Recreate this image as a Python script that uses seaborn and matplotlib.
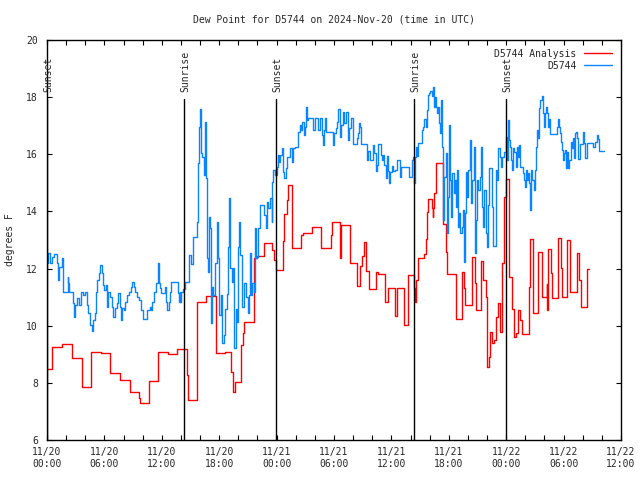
import matplotlib
matplotlib.use("Agg")
import matplotlib.pyplot as plt
import numpy as np
import pandas as pd
import seaborn as sns

# ---------------- data (hours since 2024-11-20 00:00 UTC, degrees F) ----------------
red_steps = [
    (0.0, 8.47), (0.55, 9.24), (1.6, 9.35), (2.58, 8.86), (3.66, 7.84), (4.57, 9.09),
    (5.61, 9.03), (6.62, 8.36), (7.63, 8.10), (8.68, 7.69), (9.62, 7.48), (9.72, 7.28),
    (10.66, 8.07), (11.63, 9.09), (12.68, 9.01), (13.62, 9.17), (14.6, 8.27), (14.71, 7.40),
    (15.68, 10.82), (16.59, 11.03), (17.63, 9.04), (18.64, 9.08), (19.26, 8.39), (19.41, 7.69),
    (19.65, 8.02), (20.31, 9.32), (20.49, 9.76), (20.6, 10.14), (21.64, 12.36), (21.92, 12.43),
    (22.64, 12.90), (23.55, 12.64), (23.76, 12.30), (23.94, 11.95), (24.64, 12.97), (24.8, 13.90),
    (25.09, 14.39), (25.22, 14.92), (25.64, 12.71), (26.52, 13.18), (26.73, 13.26), (27.73, 13.44),
    (28.67, 12.71), (29.69, 13.18), (29.75, 13.62), (30.66, 12.36), (30.72, 13.51), (31.64, 12.20),
    (32.37, 11.38), (32.69, 12.08), (32.89, 12.43), (33.1, 12.94), (33.31, 11.91), (33.63, 11.61),
    (33.68, 11.28), (34.36, 11.87), (34.63, 11.80), (35.3, 11.33), (35.38, 10.82), (35.61, 11.33),
    (36.34, 10.82), (36.42, 10.35), (36.62, 11.33), (37.32, 10.01), (37.69, 11.77), (38.36, 11.31),
    (38.47, 10.84), (38.57, 11.60), (38.75, 12.36), (39.44, 12.51), (39.58, 13.02), (39.69, 13.97),
    (39.79, 14.45), (40.27, 14.11), (40.35, 13.82), (40.4, 14.11), (40.48, 14.66), (40.63, 15.68),
    (41.42, 13.56), (41.67, 12.59), (41.78, 11.81), (42.72, 10.22), (43.41, 11.89), (43.62, 11.31),
    (43.72, 10.71), (44.39, 12.42), (44.74, 11.51), (44.84, 10.55), (45.36, 12.28), (45.6, 11.60),
    (45.89, 10.99), (45.99, 8.57), (46.2, 8.92), (46.31, 9.79), (46.51, 9.38), (46.72, 9.50),
    (46.93, 10.29), (47.14, 10.81), (47.35, 9.79), (47.56, 12.19), (47.77, 14.52), (47.98, 15.12),
    (48.32, 11.72), (48.57, 10.60), (48.78, 9.62), (48.99, 9.73), (49.2, 10.55), (49.44, 10.20),
    (49.68, 9.71), (50.38, 11.37), (50.49, 13.02), (50.83, 10.43), (51.36, 12.59), (51.71, 12.20),
    (51.77, 11.02), (52.23, 11.46), (52.29, 10.55), (52.4, 12.67), (52.65, 11.83), (52.76, 10.96),
    (53.38, 12.01), (53.45, 13.06), (53.7, 12.01), (53.8, 10.99), (54.39, 13.00), (54.67, 11.17),
    (55.43, 12.56), (55.64, 11.60), (55.79, 10.64), (56.41, 11.97), (56.69, 11.97),
]

blue_steps = [
    (0.0, 12.18), (0.14, 12.56), (0.31, 12.18), (0.49, 12.42), (0.77, 12.51), (1.01, 12.18),
    (1.11, 11.6), (1.25, 12.07), (1.53, 12.36), (1.64, 11.19), (2.16, 11.72), (2.22, 11.48),
    (2.3, 11.19), (2.75, 10.78), (2.86, 10.32), (2.92, 10.72), (3.17, 10.96), (3.38, 10.72),
    (3.55, 11.19), (3.8, 11.07), (3.97, 11.19), (4.18, 10.72), (4.32, 10.43), (4.49, 10.02),
    (4.67, 9.83), (4.84, 10.2), (5.02, 10.43), (5.12, 11.19), (5.26, 11.6), (5.44, 11.83),
    (5.54, 12.12), (5.71, 11.83), (5.82, 11.42), (5.99, 11.25), (6.13, 11.42), (6.24, 10.67),
    (6.41, 11.19), (6.58, 11.02), (6.76, 10.67), (6.93, 10.32), (7.11, 10.61), (7.28, 10.78),
    (7.45, 11.13),
    (7.6, 10.67), (7.7, 10.2), (7.84, 10.61), (8.05, 10.55), (8.19, 10.84), (8.4, 11.07),
    (8.57, 11.19), (8.75, 11.37), (8.88, 11.52), (9.06, 11.37), (9.23, 11.19), (9.41, 11.02),
    (9.58, 10.9), (9.86, 10.55), (10.03, 10.22), (10.49, 10.55), (10.73, 10.67), (10.9, 10.55),
    (11.01, 10.84), (11.18, 11.19), (11.43, 11.48), (11.6, 12.18), (11.71, 11.48), (11.84, 11.31),
    (11.95, 11.13), (12.3, 11.37), (12.47, 10.84), (12.57, 10.55), (12.72, 10.84), (12.82, 11.19),
    (12.93, 11.54), (13.69, 11.13), (13.78, 10.84), (13.87, 11.19), (13.95, 10.84), (14.04, 11.19),
    (14.22, 11.3),
    (14.42, 11.52), (14.84, 12.47), (15.05, 12.15), (15.29, 13.12), (15.64, 13.62), (15.75, 15.68),
    (15.89, 16.97), (15.99, 17.58), (16.1, 16.03), (16.24, 15.92), (16.41, 15.27), (16.51, 17.14),
    (16.62, 15.16), (16.72, 12.36), (16.86, 11.89), (16.97, 13.82), (17.04, 13.41), (17.14, 10.08),
    (17.28, 11.37), (17.38, 11.07), (17.56, 12.18), (17.73, 13.29), (17.8, 13.64), (17.91, 12.36),
    (18.01, 10.37), (18.19, 11.07), (18.33, 9.38), (18.5, 9.67), (18.61, 10.6), (18.78, 11.1),
    (18.95, 12.77), (19.06, 14.46), (19.16, 12.01), (19.3, 11.54), (19.41, 12.01), (19.58, 9.21),
    (19.72, 10.6), (19.83, 10.14), (19.93, 12.77), (20.07, 13.64), (20.21, 12.47), (20.41, 10.67),
    (20.56, 11.48), (20.83, 11.02), (20.98, 10.43), (21.11, 11.07), (21.22, 12.53), (21.32, 11.07),
    (21.46, 11.48), (21.6, 11.19),
    (21.74, 13.41), (21.8, 12.36), (21.92, 12.42), (22.02, 13.41), (22.26, 14.23), (22.71, 13.88),
    (22.86, 13.41), (22.96, 14.34), (23.13, 14.11), (23.31, 14.46), (23.48, 13.64), (23.55, 15.04),
    (23.65, 15.45), (23.83, 15.27), (24.01, 15.57), (24.11, 15.98), (24.25, 15.74), (24.35, 15.98),
    (24.53, 16.21), (24.7, 15.39), (24.8, 15.16), (24.95, 15.51), (25.09, 15.92), (25.4, 16.21),
    (25.58, 15.74), (25.74, 16.23), (25.92, 16.27), (26.27, 16.79), (26.41, 17.02), (26.55, 16.85),
    (26.69, 17.14), (26.83, 16.68), (26.97, 16.97), (27.07, 17.67), (27.14, 17.2), (27.32, 17.26),
    (27.84, 16.85), (28.01, 17.26), (28.36, 16.85), (28.54, 17.26), (28.71, 16.68), (28.85, 16.33),
    (28.99, 16.85),
    (29.06, 17.26), (29.16, 16.79), (29.93, 16.33), (30.03, 16.73), (30.17, 16.91), (30.28, 17.14),
    (30.38, 17.37), (30.45, 17.58), (30.63, 16.62), (30.73, 17.02), (30.97, 17.49), (31.08, 17.08),
    (31.22, 17.49), (31.43, 17.02), (31.5, 16.5), (31.6, 16.91), (31.78, 17.28), (32.02, 16.35),
    (32.37, 16.56), (32.48, 16.73), (32.61, 17.08), (32.72, 16.97), (32.82, 16.35), (33.42, 15.8),
    (33.58, 16.11), (33.76, 15.8), (34.11, 16.33), (34.21, 16.03), (34.36, 15.41), (34.46, 15.62),
    (34.57, 16.35), (34.88, 15.98), (35.05, 15.8), (35.15, 15.98), (35.26, 15.62), (35.4, 15.16),
    (35.54, 15.95), (35.68, 15.41), (35.78, 14.98), (35.88, 15.39), (36.03, 15.6), (36.2, 15.41),
    (36.38, 15.45), (36.55, 15.8), (36.9, 15.22), (37.0, 15.54), (37.84, 15.22), (38.12, 15.8),
    (38.29, 15.92), (38.39, 14.98), (38.47, 15.92), (38.57, 16.27), (38.67, 15.94), (38.81, 16.38),
    (39.17, 16.85), (39.33, 16.97), (39.44, 17.22), (39.58, 16.97), (39.69, 17.55), (39.79, 17.9),
    (39.86, 18.08), (39.96, 18.13), (40.07, 18.23), (40.21, 18.04), (40.32, 18.37), (40.42, 17.67),
    (40.56, 18.02), (40.69, 17.67), (40.8, 17.43), (40.9, 17.67), (41.01, 17.08), (41.11, 16.73),
    (41.22, 17.9), (41.32, 16.27), (41.42, 13.7), (41.53, 15.22), (41.67, 16.03), (41.78, 13.23),
    (41.88, 14.52), (42.02, 17.02), (42.12, 15.1), (42.23, 13.82), (42.36, 15.33), (42.51, 14.63),
    (42.65, 15.1), (42.75, 14.17), (42.86, 15.45), (42.99, 13.47), (43.1, 13.93), (43.2, 13.23),
    (43.35, 13.47), (43.48, 14.05), (43.59, 12.24),
    (43.69, 13.93), (43.8, 15.39), (43.87, 14.52), (44.04, 15.45), (44.18, 16.5), (44.29, 14.28),
    (44.46, 15.1), (44.6, 16.27), (44.74, 12.53), (44.84, 13.7), (44.98, 15.1), (45.08, 14.75),
    (45.23, 15.22), (45.36, 16.27), (45.5, 14.17), (45.6, 13.47), (45.71, 14.75), (45.85, 13.23),
    (45.96, 12.77), (46.07, 14.22), (46.2, 15.51), (46.48, 14.17), (46.65, 12.79), (46.93, 15.45),
    (47.07, 15.1), (47.17, 16.21), (47.32, 15.92), (47.46, 15.57), (47.59, 15.92), (47.74, 16.09),
    (47.98, 16.62), (48.08, 15.8), (48.19, 17.2), (48.29, 16.5), (48.4, 16.27), (48.5, 15.8),
    (48.6, 15.45), (48.71, 16.21), (48.85, 16.09), (48.99, 15.57), (49.1, 16.27), (49.26, 15.92),
    (49.37, 16.32), (49.47, 15.57), (49.75, 15.33), (49.86, 15.1), (49.96, 14.87), (50.07, 15.45),
    (50.17, 15.1), (50.31, 15.33), (50.41, 14.98), (50.52, 14.05), (50.62, 15.45), (50.73, 15.1),
    (50.87, 14.75), (50.98, 15.45),
    (51.08, 16.27), (51.19, 16.85), (51.29, 16.56), (51.43, 17.61), (51.56, 17.9), (51.71, 18.04),
    (51.81, 17.43), (51.95, 16.97), (52.05, 17.43), (52.16, 17.67), (52.26, 17.45), (52.4, 16.97),
    (52.5, 17.22), (52.61, 16.71), (53.28, 16.97), (53.38, 17.22), (53.52, 16.97), (53.62, 16.73),
    (53.73, 16.44), (53.8, 16.15), (53.94, 15.8), (54.04, 16.03), (54.14, 16.15), (54.28, 15.51),
    (54.39, 16.09), (54.49, 15.51), (54.6, 15.8), (54.74, 16.44), (54.84, 16.21), (54.98, 16.56),
    (55.08, 15.86), (55.19, 16.73), (55.33, 16.79), (55.43, 16.56), (55.54, 15.82), (55.68, 16.36),
    (55.99, 16.79), (56.13, 16.38), (56.24, 15.86), (56.41, 16.38), (57.11, 16.27), (57.28, 16.44),
    (57.45, 16.67), (57.56, 16.52), (57.7, 16.13), (58.25, 16.13),
]

sun_hours = [0.0, 14.35, 23.97, 38.39, 47.99]
sun_labels = ["Sunset", "Sunrise", "Sunset", "Sunrise", "Sunset"]

xtick_hours = [0, 6, 12, 18, 24, 30, 36, 42, 48, 54, 60]
xtick_labels = ["11/20\n00:00", "11/20\n06:00", "11/20\n12:00", "11/20\n18:00",
                "11/21\n00:00", "11/21\n06:00", "11/21\n12:00", "11/21\n18:00",
                "11/22\n00:00", "11/22\n06:00", "11/22\n12:00"]
ytick_values = [6, 8, 10, 12, 14, 16, 18, 20]

title = "Dew Point for D5744 on 2024-Nov-20 (time in UTC)"
series_names = ["D5744 Analysis", "D5744"]

# ---------------- style ----------------
sns.set_style("ticks")
plt.rcParams["font.family"] = ["DejaVu Sans Mono"]
plt.rcParams["font.size"] = 7

fig = plt.figure(figsize=(6.4, 4.8), dpi=100)
ax = fig.add_axes([47 / 640, 40 / 480, 574 / 640, 400 / 480])

red_df = pd.DataFrame(red_steps, columns=["hours", "value"])
blue_df = pd.DataFrame(blue_steps, columns=["hours", "value"])

sns.lineplot(data=red_df, x="hours", y="value", ax=ax, color="#ff0000", lw=1.0,
             drawstyle="steps-post", estimator=None, sort=False, label=series_names[0])
sns.lineplot(data=blue_df, x="hours", y="value", ax=ax, color="#0a84ff", lw=1.0,
             drawstyle="steps-post", estimator=None, sort=False, label=series_names[1])

for h, lab in zip(sun_hours, sun_labels):
    ax.plot([h, h], [6, 17.93], color="black", lw=1.0)
    ax.text(h + 0.15, 18.18, lab, rotation=90, ha="center", va="bottom", fontsize=7)

ax.set_xlim(0, 60)
ax.set_ylim(6, 20)
ax.set_xticks(xtick_hours)
ax.set_xticklabels(xtick_labels)
ax.set_xticks(np.arange(0, 61, 2), minor=True)
ax.set_yticks(ytick_values)
ax.set_yticklabels([str(v) for v in ytick_values])
ax.tick_params(which="both", direction="in", top=True, right=True, length=3.5, width=0.8,
               color="black")
ax.tick_params(axis="y", pad=6.5)
ax.tick_params(axis="x", pad=5)
ax.set_xlabel("")
ax.set_ylabel("")
for s in ax.spines.values():
    s.set_color("black")
    s.set_linewidth(1.0)

ax.legend(loc="upper right", frameon=False, markerfirst=False, handlelength=2.9,
          handletextpad=0.8, labelspacing=0.2, fontsize=7, borderaxespad=0.5)

fig.text(334 / 640, 1 - 20 / 480, title, ha="center", va="center", fontsize=7)
fig.text(10 / 640, 0.5, "degrees F", rotation=90, ha="center", va="center", fontsize=7)

fig.savefig("out.png", dpi=100)
